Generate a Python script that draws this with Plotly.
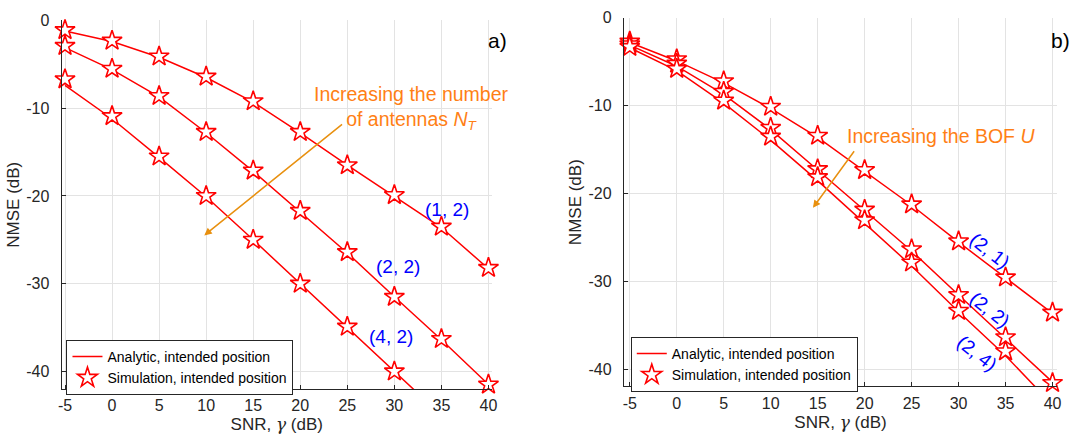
import plotly.graph_objects as go

snr = [-5, 0, 5, 10, 15, 20, 25, 30, 35, 40]
xticks = [-5, 0, 5, 10, 15, 20, 25, 30, 35, 40]
xticklabels = ["-5", "0", "5", "10", "15", "20", "25", "30", "35", "40"]
yticks = [0, -10, -20, -30, -40]
yticklabels = ["0", "-10", "-20", "-30", "-40"]

# Panel a): (N_T, U) combos
a_labels = ["(1, 2)", "(2, 2)", "(4, 2)"]
a_sim = [
    [-1.1, -2.3, -4.1, -6.4, -9.2, -12.7, -16.5, -19.9, -23.5, -28.2],
    [-2.9, -5.5, -8.6, -12.7, -17.1, -21.7, -26.4, -31.5, -36.3, -41.5],
    [-6.7, -10.9, -15.5, -20.0, -25.0, -30.0, -34.9, -40.0, None, None],
]
a_ana = [
    [-1.2, -2.4, -4.2, -6.5, -9.3, -12.8, -16.5, -20.0, -23.6, -28.3],
    [-3.1, -5.6, -8.7, -12.8, -17.2, -21.8, -26.5, -31.5, -36.4, -41.5],
    [-7.4, -11.2, -15.6, -20.1, -25.0, -30.0, -35.0, -40.0, -45.0, -50.0],
]

# Panel b)
b_labels = ["(2, 1)", "(2, 2)", "(2, 4)"]
b_sim = [
    [-2.7, -4.7, -7.2, -10.1, -13.4, -17.3, -21.2, -25.4, -29.5, -33.5],
    [-3.0, -5.2, -8.4, -12.5, -17.2, -21.8, -26.3, -31.5, -36.3, -41.5],
    [-3.3, -5.8, -9.4, -13.5, -18.1, -23.0, -27.8, -33.3, -37.9, None],
]
b_ana = [
    [-2.8, -4.9, -7.4, -10.3, -13.6, -17.4, -21.3, -25.5, -29.5, -33.6],
    [-3.1, -5.5, -8.7, -12.7, -17.3, -21.9, -26.5, -31.5, -36.4, -41.4],
    [-3.4, -6.0, -9.7, -13.9, -18.5, -23.4, -28.2, -33.4, -38.4, -44.0],
]

RED = "#FF0000"
AX = "#262626"
GRID = "#E3E3E3"
FONT = "Liberation Sans, Arial, sans-serif"
W, H = 1090, 439

fig = go.Figure()


def add_panel(ana, sim, xa, ya, legend):
    for i in range(len(ana)):
        fig.add_trace(go.Scatter(
            x=snr, y=ana[i], mode="lines", xaxis=xa, yaxis=ya,
            line=dict(color=RED, width=1.5),
            name="Analytic, intended position", legend=legend,
            showlegend=(i == 0), cliponaxis=True))
    for i in range(len(sim)):
        fig.add_trace(go.Scatter(
            x=snr, y=sim[i], mode="markers", xaxis=xa, yaxis=ya,
            marker=dict(symbol="star", size=15, color="white",
                        line=dict(color=RED, width=1.6)),
            name="Simulation, intended position", legend=legend,
            showlegend=(i == 0), cliponaxis=False))


add_panel(a_ana, a_sim, "x", "y", "legend")
add_panel(b_ana, b_sim, "x2", "y2", "legend2")


def xax(domain, rng):
    return dict(domain=domain, range=rng, tickvals=xticks, ticktext=xticklabels,
                ticks="inside", ticklen=4, tickcolor=AX, showline=True,
                linecolor=AX, linewidth=1, showgrid=True, gridcolor=GRID,
                zeroline=False, mirror=False, ticklabelstandoff=2,
                tickfont=dict(size=16, color=AX, family=FONT),
                title=dict(text="SNR, <span style='font-family:DejaVu Serif'><i>γ</i></span> (dB)",
                           font=dict(size=17, color=AX, family=FONT), standoff=4))


def yax(domain, rng, anchor):
    return dict(domain=domain, range=rng, tickvals=yticks, ticktext=yticklabels,
                ticks="inside", ticklen=4, tickcolor=AX, showline=True,
                linecolor=AX, linewidth=1, showgrid=True, gridcolor=GRID,
                zeroline=False, anchor=anchor, ticklabelstandoff=8,
                tickfont=dict(size=16, color=AX, family=FONT),
                title=dict(text="NMSE (dB)", font=dict(size=17, color=AX, family=FONT),
                           standoff=2))


fig.update_layout(
    width=W, height=H,
    margin=dict(l=0, r=0, t=0, b=0),
    paper_bgcolor="white", plot_bgcolor="white",
    font=dict(family=FONT, color=AX),
    xaxis=xax([58 / W, 492 / W], [-5.37, 40.37]) | dict(anchor="y"),
    yaxis=yax([1 - 388 / H, 1 - 12.7 / H], [-42, 0], "x"),
    xaxis2=xax([625 / W, 1062 / W], [-5.63, 40.5]) | dict(anchor="y2"),
    yaxis2=yax([1 - 385.5 / H, 1 - 10 / H], [-41.9, 0], "x2"),
    legend=dict(x=63 / W, y=1 - 338 / H, xanchor="left", yanchor="top",
                bgcolor="white", bordercolor=AX, borderwidth=1,
                font=dict(size=14, color="black", family=FONT),
                tracegroupgap=0, itemwidth=30),
    legend2=dict(x=632 / W, y=1 - 335 / H, xanchor="left", yanchor="top",
                 bgcolor="white", bordercolor=AX, borderwidth=1,
                 font=dict(size=14, color="black", family=FONT),
                 tracegroupgap=0, itemwidth=30),
    showlegend=True,
)

ORANGE_T = "#FF7F15"
ORANGE_A = "#E8900F"
BLUE = "#0000FF"

ann = []
# panel labels (paper coordinates, outside plot range)
ann.append(dict(text="a)", x=509 / W, y=1 - 33 / H, xref="paper", yref="paper",
                xanchor="right", yanchor="middle", showarrow=False,
                font=dict(size=21, color="black", family=FONT)))
ann.append(dict(text="b)", x=1077 / W, y=1 - 33 / H, xref="paper", yref="paper",
                xanchor="right", yanchor="middle", showarrow=False,
                font=dict(size=21, color="black", family=FONT)))
# orange texts and arrows
ann.append(dict(text="Increasing the number<br>of antennas <i>N<sub>T</sub></i>",
                x=31.8, y=-10.0, xref="x", yref="y", xanchor="center", align="center",
                showarrow=False, font=dict(size=19.5, color=ORANGE_T, family=FONT)))
ann.append(dict(x=9.8, y=-24.5, ax=24.6, ay=-11.7, xref="x", yref="y",
                axref="x", ayref="y", text="", showarrow=True, arrowhead=2,
                arrowsize=1, arrowwidth=1.5, arrowcolor=ORANGE_A))
ann.append(dict(text="Increasing the BOF <i>U</i>",
                x=17.9, y=-13.4, xref="x2", yref="y2", xanchor="left",
                showarrow=False, font=dict(size=19.5, color=ORANGE_T, family=FONT)))
ann.append(dict(x=14.5, y=-21.6, ax=19.0, ay=-15.0, xref="x2", yref="y2",
                axref="x2", ayref="y2", text="", showarrow=True, arrowhead=2,
                arrowsize=1, arrowwidth=1.5, arrowcolor=ORANGE_A))
# blue labels panel a
for lbl, (xx, yy) in zip(a_labels, [(35.6, -21.6), (30.4, -28.0), (29.6, -36.0)]):
    ann.append(dict(text=lbl, x=xx, y=yy, xref="x", yref="y", showarrow=False,
                    font=dict(size=19, color=BLUE, family=FONT)))
# blue labels panel b (rotated)
for lbl, (xx, yy) in zip(b_labels, [(33.3, -26.4), (33.3, -33.1), (32.0, -38.1)]):
    ann.append(dict(text=lbl, x=xx, y=yy, xref="x2", yref="y2", showarrow=False,
                    textangle=38, font=dict(size=19, color=BLUE, family=FONT)))

fig.update_layout(annotations=ann)
fig.write_html("out.html")
